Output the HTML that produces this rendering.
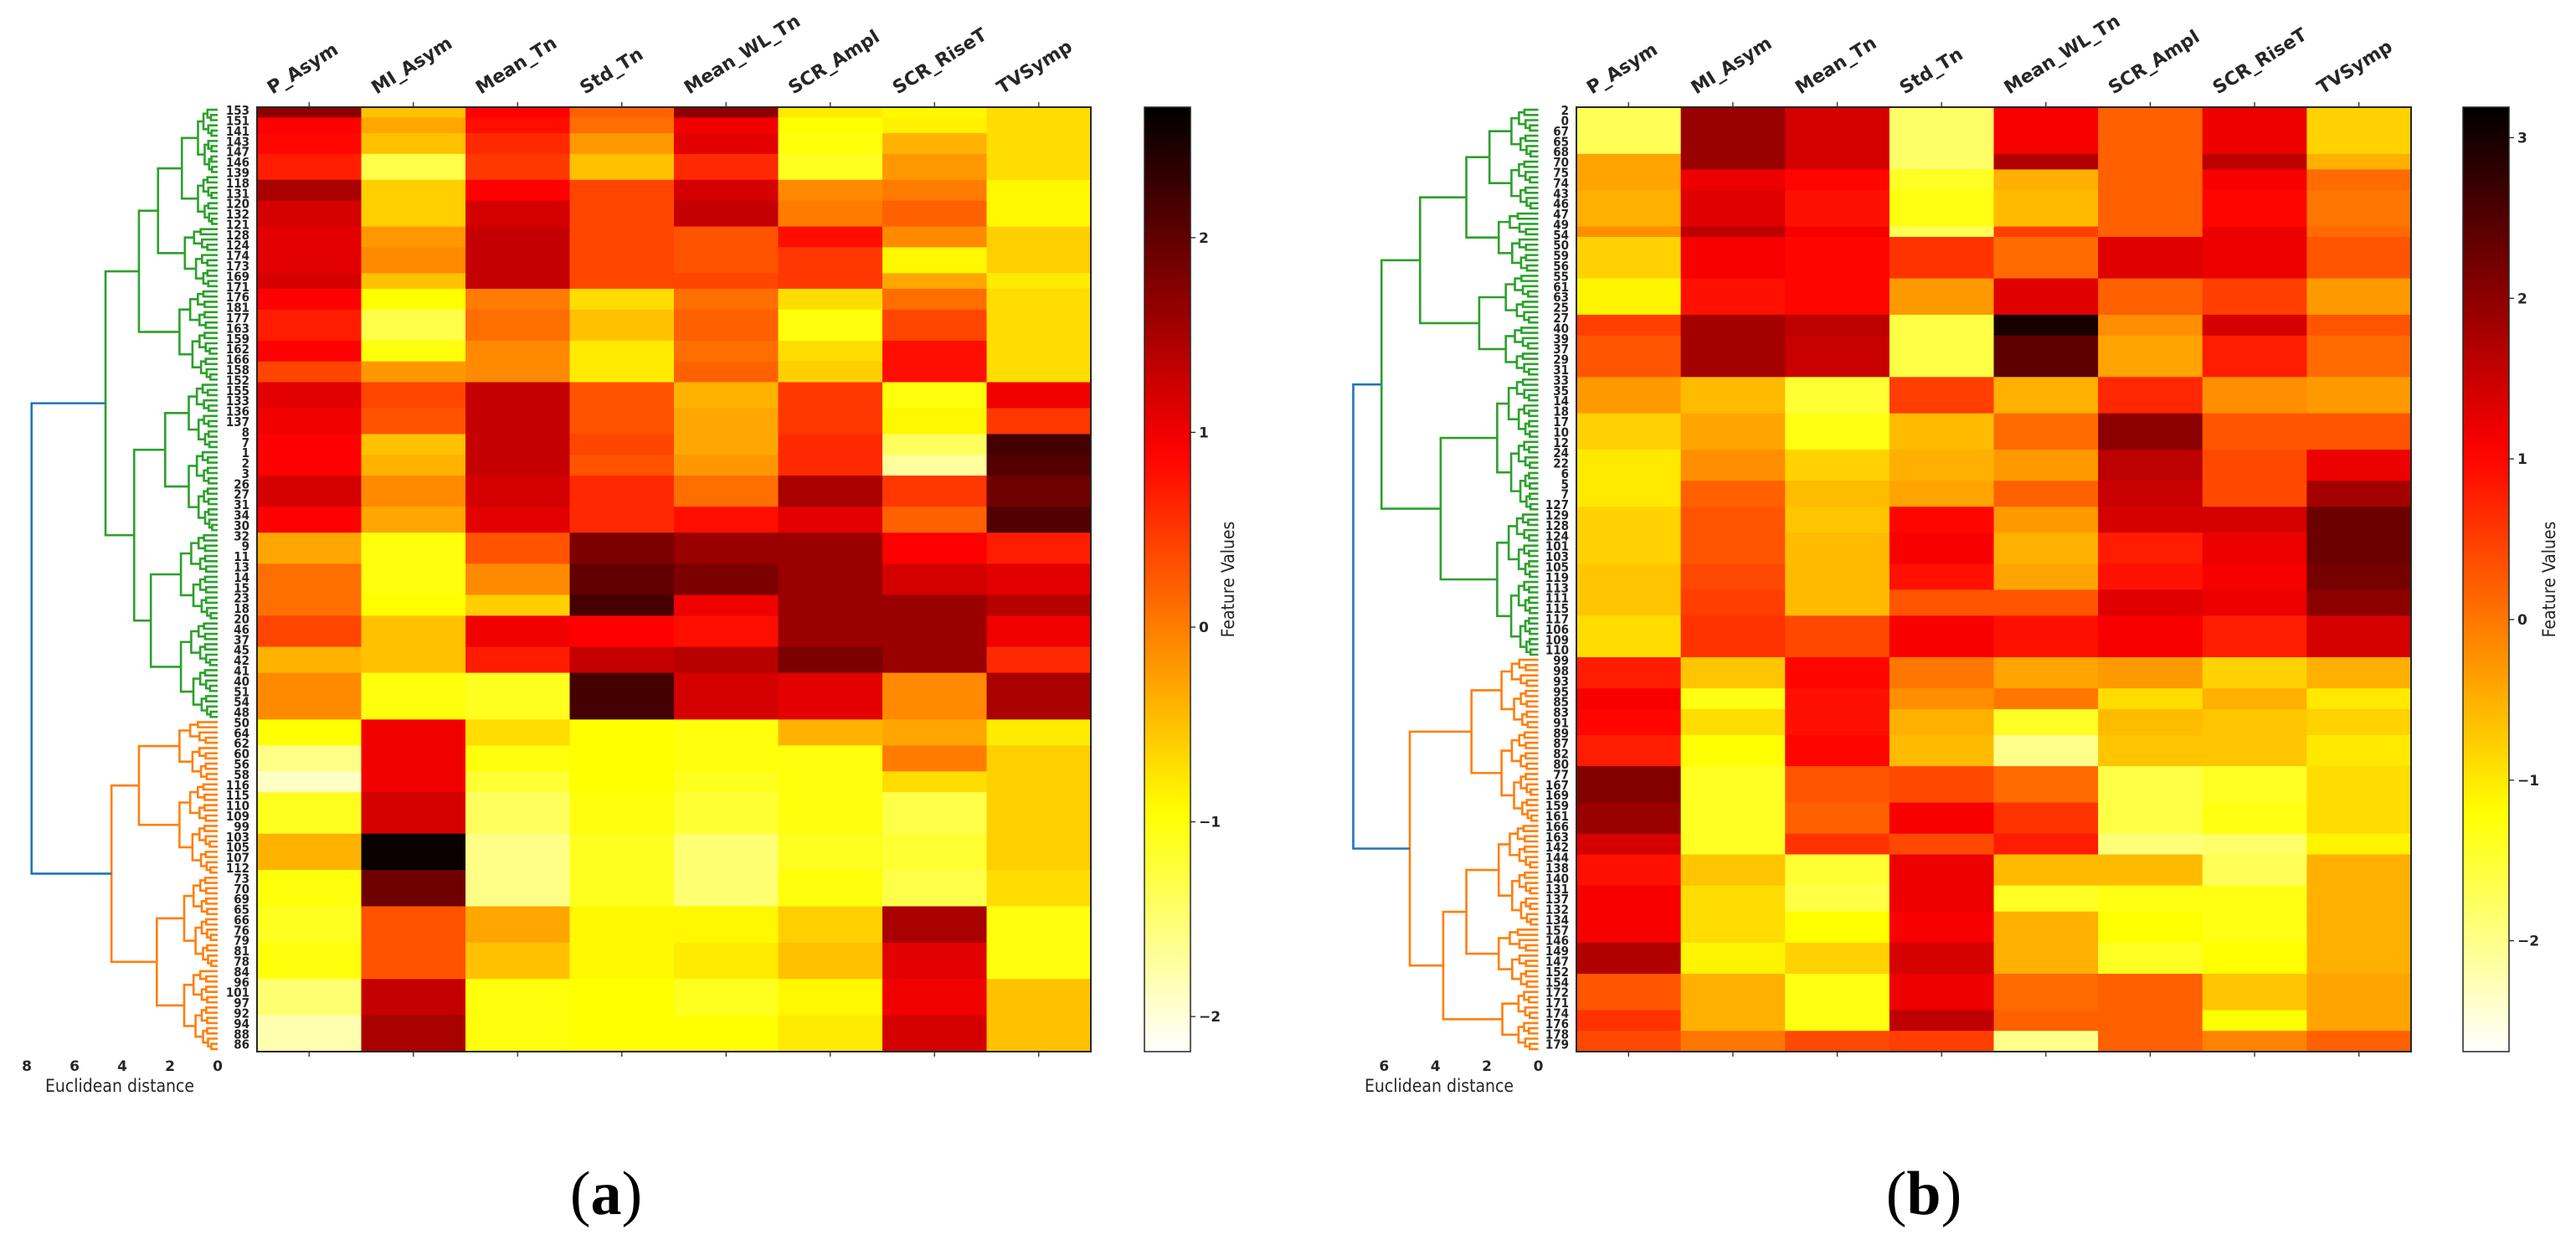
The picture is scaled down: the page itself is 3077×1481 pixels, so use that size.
<!DOCTYPE html>
<html><head><meta charset="utf-8"><style>
html,body{margin:0;padding:0;background:#fff;}
svg{display:block;}
.rl{font-family:"DejaVu Sans Condensed","DejaVu Sans",sans-serif;font-weight:bold;font-size:15px;fill:#262626;}
.cl{font-family:"DejaVu Sans","Liberation Sans",sans-serif;font-weight:bold;font-size:22px;fill:#262626;}
.tk{font-family:"DejaVu Sans","Liberation Sans",sans-serif;font-weight:bold;font-size:17px;fill:#262626;}
.ax{font-family:"DejaVu Sans Condensed","DejaVu Sans",sans-serif;font-size:21px;fill:#262626;}
.pl{font-family:"Liberation Serif",serif;font-size:74px;fill:#000;}
</style></head><body>
<svg id="fig" width="3077" height="1481" viewBox="0 0 3077 1481" xmlns="http://www.w3.org/2000/svg">
<defs id="defs"></defs>
</svg>
<script>
// ---------- DATA ----------
const features = ["P_Asym","MI_Asym","Mean_Tn","Std_Tn","Mean_WL_Tn","SCR_Ampl","SCR_RiseT","TVSymp"];
const rowLabelsA = [153,151,141,143,147,146,139,118,131,120,132,121,128,124,174,173,169,171,176,181,177,163,159,162,166,158,152,155,133,136,137,8,7,1,2,3,26,27,31,34,30,32,9,11,13,14,15,23,18,20,46,37,45,42,41,40,51,54,48,50,64,62,60,56,58,116,115,110,109,99,103,105,107,112,73,70,69,65,66,76,79,81,78,84,96,101,97,92,94,88,86];
const rowLabelsB = [2,0,67,65,68,70,75,74,43,46,47,49,54,50,59,56,55,61,63,25,27,40,39,37,29,31,33,35,14,18,17,10,12,24,22,6,5,7,127,129,128,124,101,103,105,119,113,111,115,117,106,109,110,99,98,93,95,85,83,91,89,87,82,80,77,167,169,159,161,166,163,142,144,138,140,131,137,132,134,157,146,149,147,152,154,172,171,174,176,178,179];
// row-run lengths for each block of samples
const segRowsA = [2,3,4,5,4,5,4,5,3,4,6,4,4,5,5,4,4,6,5,6,6,4,6,5,9,5,5,4,8,7,7,7,7,7,7];
const segRowsB = [9,3,4,7,2,8,7,4,8,7,7,6,5,5,6,5,5,8,6,4,5,6,7,6,4,6,5,6,6,7,4,4];
// standardized feature values per block (one array per feature column)
const valsA = [
 [1.7,0.9,0.85,0.7,1.5,1.2,1.1,1.1,1.2,0.9,0.7,0.9,0.4,1.1,1.0,0.9,0.9,1.2,0.9,-0.3,0.1,0.1,0.4,-0.4,-0.1,-0.95,-1.6,-1.9,-1.1,-0.4,-1.0,-1.1,-1.0,-1.5,-1.8],
 [-0.5,-0.3,-0.5,-1.3,-0.6,-0.6,-0.2,-0.1,-0.5,-0.95,-1.3,-1.0,-0.2,0.4,0.3,-0.5,-0.4,-0.1,-0.3,-1.0,-1.0,-0.95,-0.5,-0.5,-1.0,1.0,1.0,1.0,1.2,2.6,1.9,0.3,0.3,1.3,1.5],
 [0.9,0.8,0.6,0.5,0.9,1.2,1.3,1.3,1.3,0.0,0.1,-0.1,-0.1,1.3,1.3,1.3,1.3,1.2,1.1,0.3,-0.1,-0.6,1.0,0.7,-1.1,-0.7,-1.0,-1.2,-1.4,-1.6,-1.6,-0.3,-0.5,-1.0,-1.0],
 [0.2,0.1,-0.2,-0.5,0.4,0.4,0.4,0.4,0.4,-0.7,-0.5,-0.8,-0.8,0.3,0.3,0.4,0.3,0.6,0.6,1.8,2.0,2.2,0.9,1.3,2.2,-0.95,-0.95,-0.95,-1.0,-1.1,-1.1,-0.9,-0.9,-0.95,-0.95],
 [1.7,1.0,1.1,0.6,1.2,1.3,0.3,0.3,0.4,0.1,0.2,0.1,0.2,-0.4,-0.3,-0.3,-0.2,0.1,0.8,1.6,1.8,1.0,0.8,1.4,1.2,-1.0,-1.0,-1.1,-1.2,-1.5,-1.5,-0.9,-0.8,-1.1,-0.95],
 [-0.8,-0.95,-1.0,-1.1,-0.1,0.0,0.8,0.5,0.5,-0.7,-1.0,-0.7,-0.6,0.5,0.5,0.6,0.6,1.5,1.1,1.6,1.6,1.6,1.6,1.8,1.1,-0.4,-1.0,-1.0,-1.0,-1.1,-1.0,-0.6,-0.5,-0.9,-0.8],
 [-0.9,-0.85,-0.4,-0.2,0.0,0.2,-0.1,-0.9,-0.3,0.1,0.4,0.8,0.8,-1.0,-0.9,-1.4,-1.7,0.5,0.2,0.9,1.2,1.6,1.6,1.6,-0.1,-0.3,0.0,-0.7,-1.3,-1.2,-1.3,1.5,1.1,1.0,1.2],
 [-0.7,-0.7,-0.7,-0.7,-0.9,-0.9,-0.6,-0.6,-0.8,-0.7,-0.7,-0.7,-0.7,1.0,0.5,2.2,2.1,1.9,2.1,0.7,1.1,1.4,1.0,0.6,1.5,-0.8,-0.6,-0.6,-0.6,-0.6,-0.7,-1.0,-1.0,-0.5,-0.5]
];
const valsB = [
 [-1.7,-0.4,-0.4,-0.5,-0.2,-0.8,-1.1,0.5,0.3,-0.3,-0.8,-1.0,-1.0,-0.8,-0.8,-0.7,-0.7,-0.9,0.8,1.1,1.0,0.8,2.1,1.9,1.4,0.9,1.1,1.1,1.7,0.3,0.6,0.4],
 [1.9,1.9,1.2,1.3,1.6,1.1,0.9,1.8,1.8,-0.6,-0.4,-0.2,0.2,0.3,0.3,0.4,0.5,0.6,-0.7,-1.3,-0.9,-1.2,-1.4,-1.4,-1.4,-0.7,-0.9,-0.9,-1.1,-0.5,-0.5,0.0],
 [1.4,1.4,1.0,0.9,1.1,1.0,1.0,1.6,1.5,-1.5,-1.3,-0.8,-0.6,-0.7,-0.6,-0.6,-0.6,0.4,1.0,0.9,0.9,1.0,0.3,0.2,0.6,-1.5,-1.6,-1.2,-0.8,-1.3,-1.3,0.4],
 [-1.8,-1.8,-1.4,-1.3,-1.7,0.6,-0.3,-1.6,-1.6,0.5,-0.6,-0.5,-0.4,1.0,1.1,0.9,0.3,1.1,0.0,-0.2,-0.5,-0.6,0.4,1.1,0.4,1.2,1.2,1.1,1.4,1.2,1.6,0.5],
 [1.1,1.7,-0.5,-0.6,0.5,0.1,1.3,3.0,2.4,-0.5,0.1,-0.3,0.2,-0.3,-0.5,-0.4,0.3,0.9,-0.4,0.0,-1.4,-2.0,0.1,0.6,0.8,-0.6,-1.4,-0.5,-0.5,0.1,0.2,-2.0],
 [0.2,0.2,0.2,0.2,0.2,1.3,0.2,-0.2,-0.4,0.7,2.0,1.6,1.5,1.4,0.8,0.9,1.3,1.1,-0.3,-0.9,-0.6,-0.7,-1.6,-1.6,-1.9,-0.6,-1.3,-1.2,-1.4,0.2,0.2,0.2],
 [1.2,1.6,1.1,1.0,1.2,1.2,0.5,1.4,0.8,-0.2,0.3,0.4,0.4,1.4,1.2,1.1,1.2,0.8,-0.8,-0.5,-0.7,-0.7,-1.4,-1.3,-1.8,-1.7,-1.3,-1.3,-1.2,-0.7,-1.2,-0.1],
 [-0.8,-0.5,0.1,0.0,0.1,0.3,-0.3,0.3,0.1,-0.3,0.3,1.2,1.8,2.3,2.3,2.2,2.0,1.4,-0.5,-1.0,-0.8,-1.0,-0.9,-0.9,-1.1,-0.5,-0.5,-0.5,-0.5,-0.4,-0.4,0.2]
];
// dendrogram linkage sketches: [mergeHeight, left, right]; a number = small sub-cluster of that many samples
const treeA = [7.8, [4.7, [3.3, [2.5, [1.5, 13, 10], 12], 18], [3.5, [2.2, 13, 16], [2.8, 17, 19]]], [4.45, [3.3, 12, 18], [2.55, 18, 16]]];
const treeB = [7.2, [6.1, [4.6, [2.8, [1.9, 10, 10], 12], [2.3, 10, 10]], [3.8, 26, 28]], [5.0, [2.6, 14, 18], [3.7, [2.8, 20, 12], [1.4, 6, 6]]]];
const cbTicksA = [2, 1, 0, -1, -2];
const cbTicksB = [3, 2, 1, 0, -1, -2];
const distTicksA = [8, 6, 4, 2, 0];
const distTicksB = [6, 4, 2, 0];

// ---------- LAYOUT ----------
const NS = "http://www.w3.org/2000/svg";
const svg = document.getElementById('fig');
const defs = document.getElementById('defs');
function mk(tag, attrs, parent) {
  const e = document.createElementNS(NS, tag);
  for (const k in attrs) e.setAttribute(k, attrs[k]);
  (parent || svg).appendChild(e);
  return e;
}
function hotR(v, vmin, vmax) {
  let t = (vmax - v) / (vmax - vmin);
  t = Math.max(0, Math.min(1, t));
  const r = Math.min(1, t / 0.365);
  const g = Math.max(0, Math.min(1, (t - 0.365) / 0.381));
  const b = Math.max(0, Math.min(1, (t - 0.746) / 0.254));
  return `rgb(${Math.round(r*255)},${Math.round(g*255)},${Math.round(b*255)})`;
}

const panels = [
  {id:'a', hx0:307, hx1:1303, top:128, bot:1256, vmin:-2.18, vmax:2.67, segRows:segRowsA, vals:valsA, labels:rowLabelsA,
   tree:treeA, d0:260, dScale:28.5, labelRight:298, distTicks:distTicksA, distLabelX:54,
   cbx0:1367, cbx1:1422, cbTicks:cbTicksA, cbLabelX:1474, panelX:724},
  {id:'b', hx0:1883, hx1:2880, top:128, bot:1256, vmin:-2.69, vmax:3.19, segRows:segRowsB, vals:valsB, labels:rowLabelsB,
   tree:treeB, d0:1837.5, dScale:30.7, labelRight:1874, distTicks:distTicksB, distLabelX:1630,
   cbx0:2942, cbx1:2997, cbTicks:cbTicksB, cbLabelX:3052, panelX:2298}
];

panels.forEach(P => {
  const g = mk('g', {});
  
  
  const nRows = P.segRows.reduce((a, b) => a + b, 0);
  const rowH = (P.bot - P.top) / nRows;
  const colW = (P.hx1 - P.hx0) / features.length;
  const yRow = r => P.top + r * rowH;
  const xCol = c => P.hx0 + c * colW;

  const hm = mk('g', {}, g);
  
  
  P.vals.forEach((colVals, c) => {
    let r0 = 0;
    colVals.forEach((v, s) => {
      const n = P.segRows[s];
      const rect = mk('rect', {x: xCol(c).toFixed(2), y: yRow(r0).toFixed(2), width: (colW + 0.6).toFixed(2), height: (n * rowH + 0.6).toFixed(2), fill: hotR(v, P.vmin, P.vmax)}, hm);
      
      
      r0 += n;
    });
  });
  const frame = mk('rect', {x: P.hx0, y: P.top, width: P.hx1 - P.hx0, height: P.bot - P.top, fill: 'none', stroke: '#262626', 'stroke-width': 2}, g);
  
  

  features.forEach((f, c) => {
    const cx = xCol(c) + colW / 2;
    mk('line', {x1: cx, y1: P.top, x2: cx, y2: P.top - 6, stroke: '#262626', 'stroke-width': 1.3}, g);
    mk('line', {x1: cx, y1: P.bot, x2: cx, y2: P.bot + 6, stroke: '#262626', 'stroke-width': 1.3}, g);
    const t = mk('text', {x: cx - 44, y: 113, class: 'cl', transform: `rotate(-32 ${cx - 44} 113)`}, g);
    t.textContent = f;
    
    
  });

  P.labels.forEach((lab, i) => {
    const t = mk('text', {x: P.labelRight, y: (yRow(2 * i + 0.5) + 6).toFixed(1), class: 'rl', 'text-anchor': 'end'}, g);
    t.textContent = lab;
    
    
  });

  const dg = mk('g', {fill: 'none', 'stroke-width': 2.6}, g);
  
  
  const xD = d => P.d0 - d * P.dScale;
  let leaf = 0;
  function auto(n, h) {
    if (n === 1) { const y = yRow(leaf + 0.5); leaf++; return {y, h: 0}; }
    const k = Math.max(1, Math.round(n * 0.45));
    const hh = Math.max(0.15, h);
    return link(hh, auto(k, hh * 0.72), auto(n - k, hh * 0.66));
  }
  let curColor = '#2ca02c';
  function link(h, A, B) {
    const p = mk('path', {d: `M${P.d0 - A.h * P.dScale},${A.y}H${xD(h)}V${B.y}H${P.d0 - B.h * P.dScale}`, stroke: curColor}, dg);
    
    
    return {y: (A.y + B.y) / 2, h};
  }
  function build(spec, parentH) {
    if (typeof spec === 'number') return auto(spec, Math.min(1.6, parentH * 0.55));
    const A = build(spec[1], spec[0]);
    const B = build(spec[2], spec[0]);
    return link(spec[0], A, B);
  }
  curColor = '#2ca02c';
  const top = build(P.tree[1], P.tree[0]);
  curColor = '#ff7f0e';
  const bottom = build(P.tree[2], P.tree[0]);
  curColor = '#1f77b4';
  link(P.tree[0], top, bottom);
  P.distTicks.forEach(d => {
    const t = mk('text', {x: xD(d), y: 1279, class: 'tk', 'text-anchor': 'middle'}, g);
    t.textContent = d;
    
    
  });
  const dl = mk('text', {x: P.distLabelX, y: 1304, class: 'ax'}, g);
  dl.textContent = 'Euclidean distance';
  
  

  const grad = mk('linearGradient', {id: 'grad' + P.id, x1: 0, y1: 1, x2: 0, y2: 0}, defs);
  for (let i = 0; i <= 40; i++) {
    const v = P.vmin + (P.vmax - P.vmin) * i / 40;
    mk('stop', {offset: (i / 40).toFixed(3), 'stop-color': hotR(v, P.vmin, P.vmax)}, grad);
  }
  const cb = mk('rect', {x: P.cbx0, y: P.top, width: P.cbx1 - P.cbx0, height: P.bot - P.top, fill: `url(#grad${P.id})`, stroke: '#262626', 'stroke-width': 1.5}, g);
  
  
  const yV = v => P.top + (P.vmax - v) / (P.vmax - P.vmin) * (P.bot - P.top);
  P.cbTicks.forEach(v => {
    mk('line', {x1: P.cbx1, y1: yV(v), x2: P.cbx1 + 6, y2: yV(v), stroke: '#262626', 'stroke-width': 1.3}, g);
    const t = mk('text', {x: P.cbx1 + 10, y: yV(v) + 6, class: 'tk'}, g);
    t.textContent = v < 0 ? '\u2212' + Math.abs(v) : String(v);
    
    
  });
  const fl = mk('text', {x: P.cbLabelX, y: 692, class: 'ax', 'text-anchor': 'middle', transform: `rotate(-90 ${P.cbLabelX} 692)`}, g);
  fl.textContent = 'Feature Values';
  
  

  const pl = mk('text', {x: P.panelX, y: 1450, class: 'pl', 'text-anchor': 'middle'}, g);
  pl.innerHTML = '(<tspan font-weight="bold">' + P.id + '</tspan>)';
  
  
});
</script>
</body></html>
